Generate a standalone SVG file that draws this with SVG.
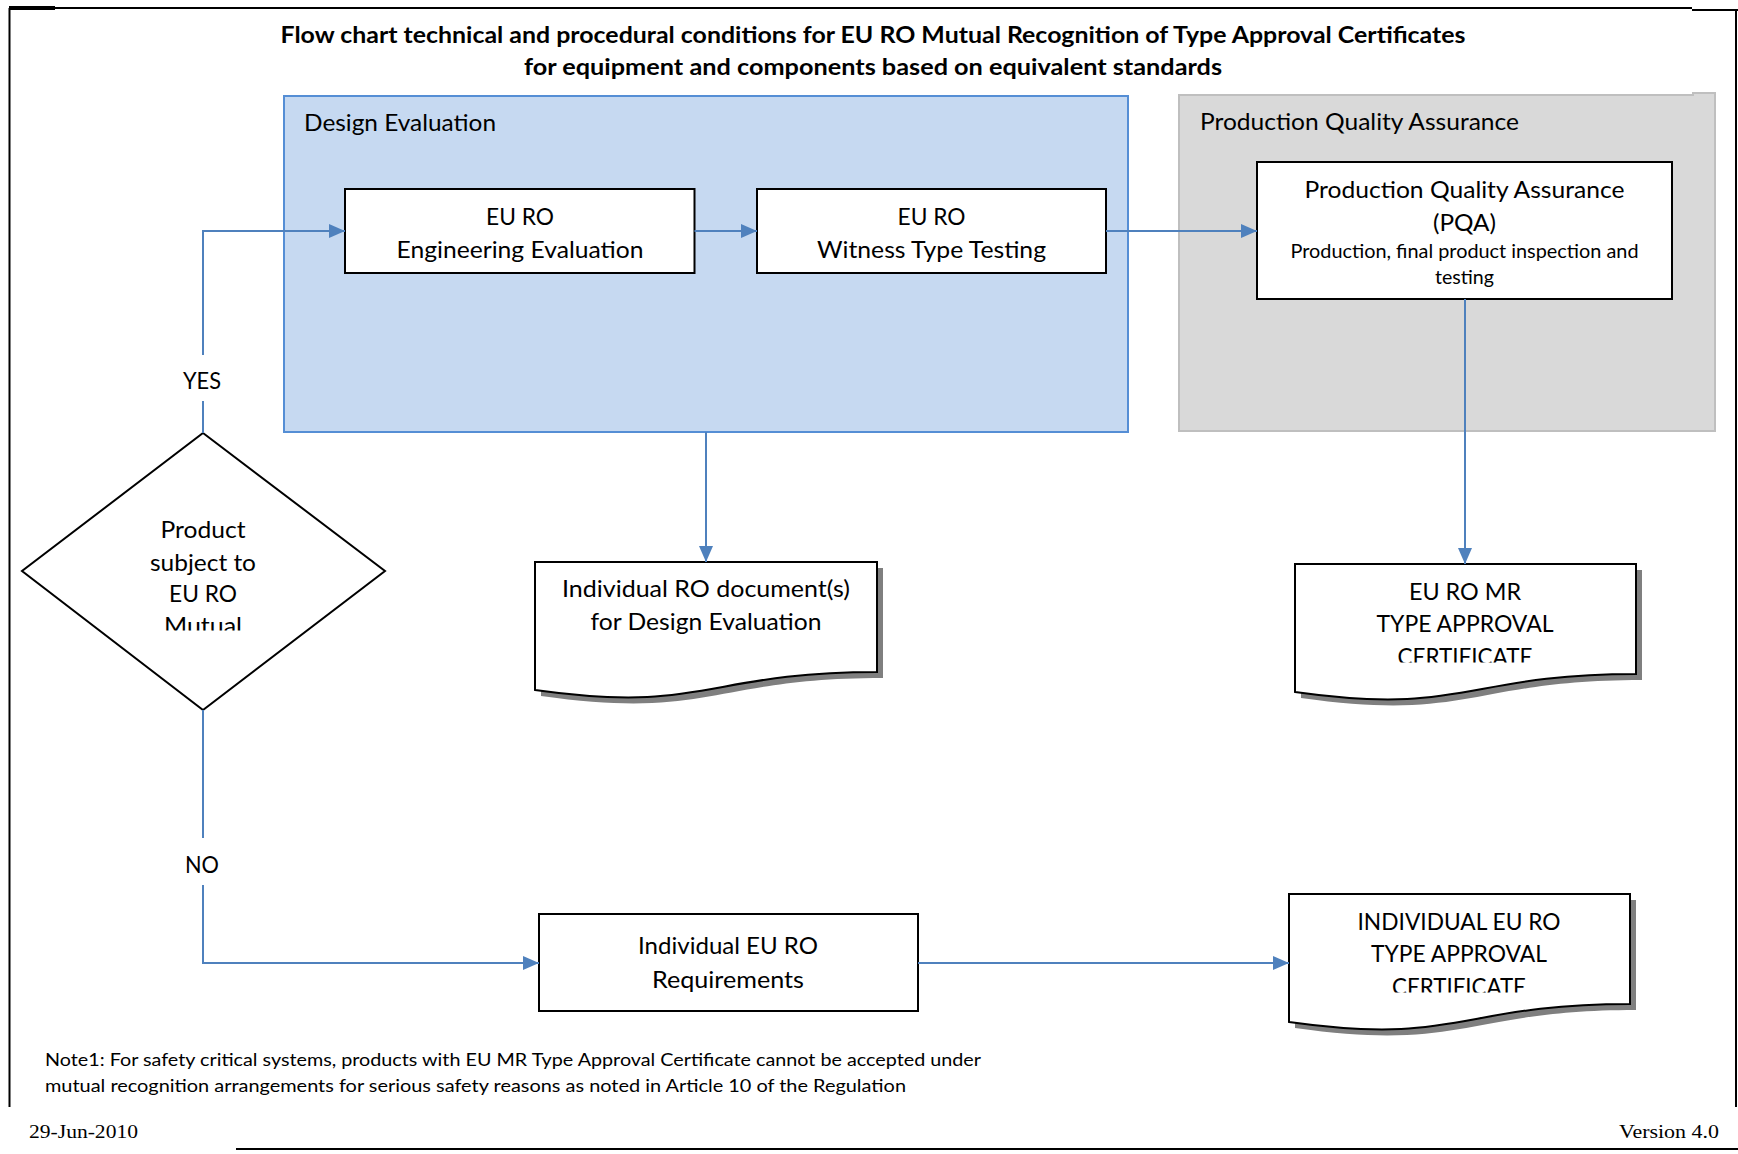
<svg xmlns="http://www.w3.org/2000/svg" width="1738" height="1154" viewBox="0 0 1738 1154">
<style>
.t{font-family:Lato,"Open Sans","Liberation Sans",sans-serif;fill:#000;}
.c{text-anchor:middle;}
.b24{font-size:24px;}
.s19{font-size:19px;}
.title{font-size:22px;font-weight:bold;}
.note{font-size:18px;}
.ser{font-family:"Liberation Serif","Times New Roman",serif;font-size:18px;fill:#000;}
.box{fill:#fff;stroke:#000;stroke-width:2;}
.shadow{fill:#7f7f7f;stroke:none;}
.conn{fill:none;stroke:#4F81BD;stroke-width:2;}
.frame{fill:none;stroke:#000;stroke-width:2;}
</style>
<defs>
<marker id="arr" markerUnits="userSpaceOnUse" markerWidth="16" markerHeight="16" viewBox="0 0 16 16" refX="16" refY="8" orient="auto">
<path d="M0,1 L16,8 L0,15 Z" fill="#4F81BD"/>
</marker>
<clipPath id="clipDiamond"><rect x="22" y="440" width="363" height="190.5"/></clipPath>
<clipPath id="clipDoc2"><rect x="1295" y="564" width="341" height="98.5"/></clipPath>
<clipPath id="clipDoc3"><rect x="1289" y="894" width="341" height="98.5"/></clipPath>
</defs>
<rect x="0" y="0" width="1738" height="1154" fill="#fff"/>

<g id="page-frame">
<path class="frame" d="M9,8 H1692 M1692,10 H1738 M9.5,8 V1107 M1736,10 V1107 M236,1149 H1738"/>
<path d="M9,8 H55" stroke="#000" stroke-width="4"/>
</g>

<g id="title">
<text class="t c title" x="873" y="43" textLength="1185" lengthAdjust="spacingAndGlyphs">Flow chart technical and procedural conditions for EU RO Mutual Recognition of Type Approval Certificates</text>
<text class="t c title" x="873" y="75" textLength="698" lengthAdjust="spacingAndGlyphs">for equipment and components based on equivalent standards</text>
</g>

<g id="design-evaluation">
<rect x="284" y="96" width="844" height="336" fill="#C6D9F1" stroke="#558ED5" stroke-width="2"/>
<text class="t b24" x="304" y="131" textLength="192" lengthAdjust="spacingAndGlyphs">Design Evaluation</text>
</g>

<g id="production-quality-assurance">
<path d="M1179,95 H1693 V93 H1715 V431 H1179 Z" fill="#D9D9D9" stroke="#BFBFBF" stroke-width="2"/>
<text class="t b24" x="1200" y="130" textLength="319" lengthAdjust="spacingAndGlyphs">Production Quality Assurance</text>
</g>

<g id="engineering-evaluation">
<rect class="box" x="345" y="189" width="349.5" height="84"/>
<text class="t c b24" x="520" y="225" textLength="68" lengthAdjust="spacingAndGlyphs">EU RO</text>
<text class="t c b24" x="520" y="258" textLength="247" lengthAdjust="spacingAndGlyphs">Engineering Evaluation</text>
</g>

<g id="witness-type-testing">
<rect class="box" x="757" y="189" width="349" height="84"/>
<text class="t c b24" x="931.5" y="225" textLength="68" lengthAdjust="spacingAndGlyphs">EU RO</text>
<text class="t c b24" x="931.5" y="258" textLength="229" lengthAdjust="spacingAndGlyphs">Witness Type Testing</text>
</g>

<g id="pqa">
<rect class="box" x="1257" y="162" width="415" height="137"/>
<text class="t c b24" x="1464.5" y="198" textLength="320" lengthAdjust="spacingAndGlyphs">Production Quality Assurance</text>
<text class="t c b24" x="1464.5" y="231" textLength="63" lengthAdjust="spacingAndGlyphs">(PQA)</text>
<text class="t c s19" x="1464.5" y="258" textLength="348" lengthAdjust="spacingAndGlyphs">Production, final product inspection and</text>
<text class="t c s19" x="1464.5" y="284" textLength="59" lengthAdjust="spacingAndGlyphs">testing</text>
</g>

<g id="decision">
<polygon class="box" points="203,433 385,571 203,710 22,571"/>
<g clip-path="url(#clipDiamond)">
<text class="t c b24" x="203" y="538" textLength="85" lengthAdjust="spacingAndGlyphs">Product</text>
<text class="t c b24" x="203" y="571" textLength="106" lengthAdjust="spacingAndGlyphs">subject to</text>
<text class="t c b24" x="203" y="602" textLength="68" lengthAdjust="spacingAndGlyphs">EU RO</text>
<text class="t c b24" x="203" y="634" textLength="78" lengthAdjust="spacingAndGlyphs">Mutual</text>
</g>
</g>

<g id="doc-design-evaluation">
<path class="shadow" d="M541,568 H883 V678 C712,678 712,720 541,696 Z"/>
<path class="box" d="M535,562 H877 V672 C706,672 706,714 535,690 Z"/>
<text class="t c b24" x="706" y="597" textLength="288" lengthAdjust="spacingAndGlyphs">Individual RO document(s)</text>
<text class="t c b24" x="706" y="630" textLength="231" lengthAdjust="spacingAndGlyphs">for Design Evaluation</text>
</g>

<g id="doc-eu-ro-mr-certificate">
<path class="shadow" d="M1301,570 H1642 V680 C1471.5,680 1471.5,722 1301,698 Z"/>
<path class="box" d="M1295,564 H1636 V674 C1465.5,674 1465.5,716 1295,692 Z"/>
<g clip-path="url(#clipDoc2)">
<text class="t c b24" x="1465" y="600" textLength="112" lengthAdjust="spacingAndGlyphs">EU RO MR</text>
<text class="t c b24" x="1465" y="632" textLength="177" lengthAdjust="spacingAndGlyphs">TYPE APPROVAL</text>
<text class="t c b24" x="1465" y="665" textLength="135" lengthAdjust="spacingAndGlyphs">CERTIFICATE</text>
</g>
</g>

<g id="individual-requirements">
<rect class="box" x="539" y="914" width="379" height="97"/>
<text class="t c b24" x="728" y="954" textLength="180" lengthAdjust="spacingAndGlyphs">Individual EU RO</text>
<text class="t c b24" x="728" y="988" textLength="152" lengthAdjust="spacingAndGlyphs">Requirements</text>
</g>

<g id="doc-individual-certificate">
<path class="shadow" d="M1295,900 H1636 V1010 C1465.5,1010 1465.5,1052 1295,1028 Z"/>
<path class="box" d="M1289,894 H1630 V1004 C1459.5,1004 1459.5,1046 1289,1022 Z"/>
<g clip-path="url(#clipDoc3)">
<text class="t c b24" x="1459" y="930" textLength="203" lengthAdjust="spacingAndGlyphs">INDIVIDUAL EU RO</text>
<text class="t c b24" x="1459" y="962" textLength="176" lengthAdjust="spacingAndGlyphs">TYPE APPROVAL</text>
<text class="t c b24" x="1459" y="995" textLength="134" lengthAdjust="spacingAndGlyphs">CERTIFICATE</text>
</g>
</g>

<g id="connectors">
<path class="conn" d="M203,433 V401"/>
<path class="conn" d="M203,355 V231 H345" marker-end="url(#arr)"/>
<path class="conn" d="M694.5,231 H757" marker-end="url(#arr)"/>
<path class="conn" d="M1106,231 H1257" marker-end="url(#arr)"/>
<path class="conn" d="M706,432 V562" marker-end="url(#arr)"/>
<path class="conn" d="M1465,299 V564" marker-end="url(#arr)"/>
<path class="conn" d="M203,710 V838"/>
<path class="conn" d="M203,885 V963 H539" marker-end="url(#arr)"/>
<path class="conn" d="M918,963 H1289" marker-end="url(#arr)"/>
<text class="t c b24" x="202" y="389" textLength="38" lengthAdjust="spacingAndGlyphs">YES</text>
<text class="t c b24" x="202" y="873" textLength="34" lengthAdjust="spacingAndGlyphs">NO</text>
</g>

<g id="note">
<text class="t note" x="45" y="1066" textLength="936" lengthAdjust="spacingAndGlyphs">Note1: For safety critical systems, products with EU MR Type Approval Certificate cannot be accepted under</text>
<text class="t note" x="45" y="1092" textLength="861" lengthAdjust="spacingAndGlyphs">mutual recognition arrangements for serious safety reasons as noted in Article 10 of the Regulation</text>
</g>

<g id="footer">
<text class="ser" x="29" y="1138" textLength="109" lengthAdjust="spacingAndGlyphs">29-Jun-2010</text>
<text class="ser" x="1619" y="1138" textLength="100" lengthAdjust="spacingAndGlyphs">Version 4.0</text>
</g>
</svg>
